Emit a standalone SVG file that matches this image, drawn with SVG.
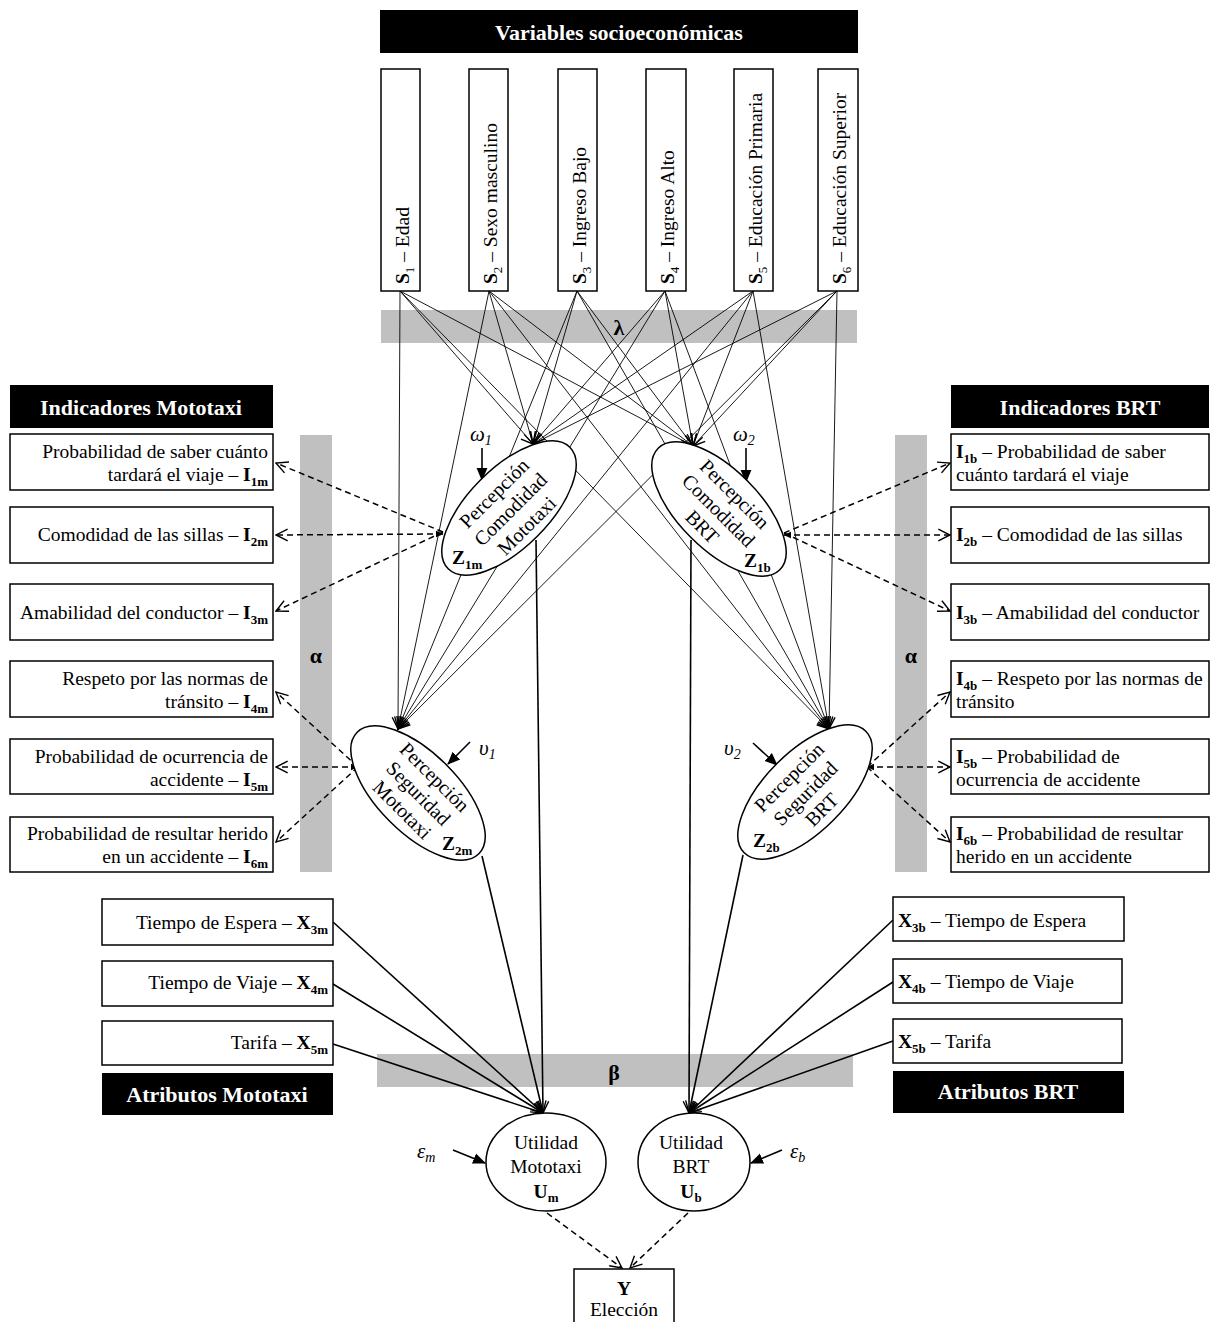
<svg xmlns="http://www.w3.org/2000/svg" width="1211" height="1322" viewBox="0 0 1211 1322">
<style>
text{font-family:"Liberation Serif","Times New Roman",serif;font-size:19.5px;fill:#000}
.hdr{fill:#000}
.hdrt{fill:#fff;font-weight:bold;font-size:22px;text-anchor:middle}
.box{fill:#fff;stroke:#000;stroke-width:1.5}
.bar{fill:#c0c0c0}
.b{font-weight:bold}
.sub{font-size:13px;font-weight:bold}
.subn{font-size:13px}
.lbl{font-weight:bold;font-size:22px;text-anchor:middle}
.thin{stroke:#000;stroke-width:0.9;fill:none;marker-end:url(#ao)}
.thick{stroke:#000;stroke-width:1.6;fill:none;marker-end:url(#ao)}
.dash{stroke:#000;stroke-width:1.5;fill:none;stroke-dasharray:6 4;marker-end:url(#ao)}
.dash2{marker-start:url(#as)}
.ell{fill:#fff;stroke:#000;stroke-width:1.5}
.et{text-anchor:middle}
.ez{font-size:20px}
.gk{font-style:italic;font-size:21px}
.gks{font-style:italic;font-size:14px}
.fa{stroke:#000;stroke-width:1.6;fill:none;marker-end:url(#af)}
</style>
<defs>
<marker id="ao" markerUnits="userSpaceOnUse" markerWidth="14" markerHeight="14" viewBox="0 0 12 12" refX="11" refY="6" orient="auto"><path d="M1,1 L11,6 L1,11" fill="none" stroke="#000" stroke-width="1.2" stroke-dasharray="none"/></marker>
<marker id="as" markerUnits="userSpaceOnUse" markerWidth="8" markerHeight="8" viewBox="0 0 12 12" refX="11" refY="6" orient="auto-start-reverse"><path d="M0,1 L12,6 L0,11 z" fill="#000"/></marker>
<marker id="af" markerUnits="userSpaceOnUse" markerWidth="13" markerHeight="13" viewBox="0 0 12 12" refX="11" refY="6" orient="auto"><path d="M0,1 L12,6 L0,11 z" fill="#000"/></marker>
</defs>
<rect width="1211" height="1322" fill="#fff"/>

<!-- gray parameter bars -->
<g id="bars">
<rect class="bar" x="381" y="310" width="476" height="33"/>
<rect class="bar" x="300" y="435" width="32" height="437"/>
<rect class="bar" x="895" y="435" width="32" height="437"/>
<rect class="bar" x="377" y="1054" width="476" height="33"/>
</g>

<g id="connectors">
<!-- S to latent variables -->
<line class="thin" x1="400" y1="291" x2="533" y2="444"/>
<line class="thin" x1="400" y1="291" x2="693" y2="446"/>
<line class="thin" x1="400" y1="291" x2="398" y2="729"/>
<line class="thin" x1="400" y1="291" x2="829" y2="729"/>
<line class="thin" x1="489" y1="291" x2="533" y2="444"/>
<line class="thin" x1="489" y1="291" x2="693" y2="446"/>
<line class="thin" x1="489" y1="291" x2="398" y2="729"/>
<line class="thin" x1="489" y1="291" x2="829" y2="729"/>
<line class="thin" x1="577" y1="291" x2="533" y2="444"/>
<line class="thin" x1="577" y1="291" x2="693" y2="446"/>
<line class="thin" x1="577" y1="291" x2="398" y2="729"/>
<line class="thin" x1="577" y1="291" x2="829" y2="729"/>
<line class="thin" x1="665" y1="291" x2="533" y2="444"/>
<line class="thin" x1="665" y1="291" x2="693" y2="446"/>
<line class="thin" x1="665" y1="291" x2="398" y2="729"/>
<line class="thin" x1="665" y1="291" x2="829" y2="729"/>
<line class="thin" x1="753" y1="291" x2="533" y2="444"/>
<line class="thin" x1="753" y1="291" x2="693" y2="446"/>
<line class="thin" x1="753" y1="291" x2="398" y2="729"/>
<line class="thin" x1="753" y1="291" x2="829" y2="729"/>
<line class="thin" x1="837" y1="291" x2="533" y2="444"/>
<line class="thin" x1="837" y1="291" x2="693" y2="446"/>
<line class="thin" x1="837" y1="291" x2="398" y2="729"/>
<line class="thin" x1="837" y1="291" x2="829" y2="729"/>
<!-- latent to indicators (dashed) -->
<line class="dash" x1="443" y1="532" x2="276" y2="463"/>
<line class="dash dash2" x1="443" y1="534" x2="276" y2="535"/>
<line class="dash" x1="443" y1="532" x2="276" y2="611"/>
<line class="dash" x1="358" y1="767" x2="276" y2="692"/>
<line class="dash dash2" x1="358" y1="767" x2="276" y2="767"/>
<line class="dash" x1="358" y1="767" x2="276" y2="842"/>
<line class="dash" x1="784" y1="533" x2="950" y2="463"/>
<line class="dash dash2" x1="784" y1="535" x2="950" y2="535"/>
<line class="dash" x1="784" y1="533" x2="950" y2="611"/>
<line class="dash" x1="867" y1="767" x2="950" y2="692"/>
<line class="dash dash2" x1="867" y1="767" x2="950" y2="767"/>
<line class="dash" x1="867" y1="767" x2="950" y2="842"/>
<!-- latent to utility -->
<line class="thick" x1="536" y1="540" x2="543" y2="1113"/>
<line class="thick" x1="482" y1="856" x2="543" y2="1113"/>
<line class="thick" x1="691" y1="540" x2="689" y2="1113"/>
<line class="thick" x1="743" y1="855" x2="689" y2="1113"/>
<!-- attributes to utility -->
<line class="thick" x1="333" y1="922" x2="543" y2="1113"/>
<line class="thick" x1="333" y1="984" x2="543" y2="1113"/>
<line class="thick" x1="333" y1="1044" x2="543" y2="1113"/>
<line class="thick" x1="893" y1="920" x2="689" y2="1113"/>
<line class="thick" x1="893" y1="982" x2="689" y2="1113"/>
<line class="thick" x1="893" y1="1041" x2="689" y2="1113"/>
<!-- utility to choice -->
<line class="dash" x1="547" y1="1213" x2="622" y2="1268"/>
<line class="dash" x1="688" y1="1213" x2="630" y2="1268"/>
<!-- error terms -->
<line class="fa" x1="482" y1="448" x2="482" y2="480"/>
<line class="fa" x1="746" y1="448" x2="746" y2="482"/>
<line class="fa" x1="470" y1="742" x2="448" y2="764"/>
<line class="fa" x1="753" y1="743" x2="777" y2="765"/>
<line class="fa" x1="453" y1="1150" x2="485" y2="1163"/>
<line class="fa" x1="782" y1="1150" x2="751" y2="1163"/>
</g>

<g id="bar-labels">
<text class="lbl" x="619" y="335">λ</text>
<text class="lbl" x="316" y="663">α</text>
<text class="lbl" x="911" y="663">α</text>
<text class="lbl" x="614" y="1080">β</text>
</g>

<g id="header-socio">
<rect class="hdr" x="380" y="10" width="478" height="43"/>
<text class="hdrt" x="619" y="40">Variables socioeconómicas</text>
</g>

<g id="S1"><rect class="box" x="381" y="69" width="39" height="222"/>
<text transform="translate(409,284) rotate(-90)"><tspan class="b">S</tspan><tspan class="subn" dy="5">1</tspan><tspan dy="-5"> – Edad</tspan></text></g>
<g id="S2"><rect class="box" x="469" y="69" width="39" height="222"/>
<text transform="translate(497,284) rotate(-90)"><tspan class="b">S</tspan><tspan class="subn" dy="5">2</tspan><tspan dy="-5"> – Sexo masculino</tspan></text></g>
<g id="S3"><rect class="box" x="558" y="69" width="39" height="222"/>
<text transform="translate(586,284) rotate(-90)"><tspan class="b">S</tspan><tspan class="subn" dy="5">3</tspan><tspan dy="-5"> – Ingreso Bajo</tspan></text></g>
<g id="S4"><rect class="box" x="646" y="69" width="40" height="222"/>
<text transform="translate(674,284) rotate(-90)"><tspan class="b">S</tspan><tspan class="subn" dy="5">4</tspan><tspan dy="-5"> – Ingreso Alto</tspan></text></g>
<g id="S5"><rect class="box" x="734" y="69" width="39" height="222"/>
<text transform="translate(762,284) rotate(-90)"><tspan class="b">S</tspan><tspan class="subn" dy="5">5</tspan><tspan dy="-5"> – Educación Primaria</tspan></text></g>
<g id="S6"><rect class="box" x="818" y="69" width="40" height="222"/>
<text transform="translate(846,284) rotate(-90)"><tspan class="b">S</tspan><tspan class="subn" dy="5">6</tspan><tspan dy="-5"> – Educación Superior</tspan></text></g>

<g id="header-ind-m">
<rect class="hdr" x="10" y="385" width="263" height="43"/>
<text class="hdrt" x="141" y="415">Indicadores Mototaxi</text>
</g>
<g id="I1m"><rect class="box" x="10" y="434" width="263" height="56"/>
<text x="268" y="458" text-anchor="end">Probabilidad de saber cuánto</text>
<text x="268" y="481" text-anchor="end">tardará el viaje – <tspan class="b">I</tspan><tspan class="sub" dy="5">1m</tspan></text></g>
<g id="I2m"><rect class="box" x="10" y="507" width="263" height="56"/>
<text x="268" y="541" text-anchor="end">Comodidad de las sillas – <tspan class="b">I</tspan><tspan class="sub" dy="5">2m</tspan></text></g>
<g id="I3m"><rect class="box" x="10" y="584" width="263" height="56"/>
<text x="268" y="619" text-anchor="end">Amabilidad del conductor – <tspan class="b">I</tspan><tspan class="sub" dy="5">3m</tspan></text></g>
<g id="I4m"><rect class="box" x="10" y="661" width="263" height="56"/>
<text x="268" y="685" text-anchor="end">Respeto por las normas de</text>
<text x="268" y="708" text-anchor="end">tránsito – <tspan class="b">I</tspan><tspan class="sub" dy="5">4m</tspan></text></g>
<g id="I5m"><rect class="box" x="10" y="739" width="263" height="55"/>
<text x="268" y="763" text-anchor="end">Probabilidad de ocurrencia de</text>
<text x="268" y="786" text-anchor="end">accidente – <tspan class="b">I</tspan><tspan class="sub" dy="5">5m</tspan></text></g>
<g id="I6m"><rect class="box" x="10" y="817" width="263" height="55"/>
<text x="268" y="840" text-anchor="end">Probabilidad de resultar herido</text>
<text x="268" y="863" text-anchor="end">en un accidente – <tspan class="b">I</tspan><tspan class="sub" dy="5">6m</tspan></text></g>

<g id="header-ind-b">
<rect class="hdr" x="951" y="385" width="258" height="43"/>
<text class="hdrt" x="1080" y="415">Indicadores BRT</text>
</g>
<g id="I1b"><rect class="box" x="951" y="434" width="258" height="56"/>
<text x="956" y="458"><tspan class="b">I</tspan><tspan class="sub" dy="5">1b</tspan><tspan dy="-5"> – Probabilidad de saber</tspan></text>
<text x="956" y="481">cuánto tardará el viaje</text></g>
<g id="I2b"><rect class="box" x="951" y="507" width="258" height="56"/>
<text x="956" y="541"><tspan class="b">I</tspan><tspan class="sub" dy="5">2b</tspan><tspan dy="-5"> – Comodidad de las sillas</tspan></text></g>
<g id="I3b"><rect class="box" x="951" y="584" width="258" height="56"/>
<text x="956" y="619"><tspan class="b">I</tspan><tspan class="sub" dy="5">3b</tspan><tspan dy="-5"> – Amabilidad del conductor</tspan></text></g>
<g id="I4b"><rect class="box" x="951" y="661" width="258" height="56"/>
<text x="956" y="685"><tspan class="b">I</tspan><tspan class="sub" dy="5">4b</tspan><tspan dy="-5"> – Respeto por las normas de</tspan></text>
<text x="956" y="708">tránsito</text></g>
<g id="I5b"><rect class="box" x="951" y="739" width="258" height="55"/>
<text x="956" y="763"><tspan class="b">I</tspan><tspan class="sub" dy="5">5b</tspan><tspan dy="-5"> – Probabilidad de</tspan></text>
<text x="956" y="786">ocurrencia de accidente</text></g>
<g id="I6b"><rect class="box" x="951" y="817" width="258" height="55"/>
<text x="956" y="840"><tspan class="b">I</tspan><tspan class="sub" dy="5">6b</tspan><tspan dy="-5"> – Probabilidad  de resultar</tspan></text>
<text x="956" y="863">herido en un accidente</text></g>

<g id="Z1m">
<ellipse class="ell" cx="0" cy="0" rx="86" ry="40" transform="translate(509,508) rotate(-45)"/>
<g transform="translate(511,510) rotate(-45)">
<text class="et ez" x="0" y="-17">Percepción</text>
<text class="et ez" x="0" y="6">Comodidad</text>
<text class="et ez" x="0" y="29">Mototaxi</text>
</g>
<text x="452" y="564"><tspan class="b">Z</tspan><tspan class="sub" dy="5">1m</tspan></text>
<text class="gk" x="470" y="441">ω<tspan class="gks" dy="4">1</tspan></text>
</g>

<g id="Z1b">
<ellipse class="ell" cx="0" cy="0" rx="86" ry="40" transform="translate(719,509) rotate(45)"/>
<g transform="translate(718,511) rotate(45)">
<text class="et ez" x="0" y="-17">Percepción</text>
<text class="et ez" x="0" y="6">Comodidad</text>
<text class="et ez" x="0" y="29">BRT</text>
</g>
<text x="744" y="567"><tspan class="b">Z</tspan><tspan class="sub" dy="5">1b</tspan></text>
<text class="gk" x="733" y="441">ω<tspan class="gks" dy="4">2</tspan></text>
</g>

<g id="Z2m">
<ellipse class="ell" cx="0" cy="0" rx="86" ry="40" transform="translate(418,793) rotate(45)"/>
<g transform="translate(418,794) rotate(45)">
<text class="et ez" x="0" y="-17">Percepción</text>
<text class="et ez" x="0" y="6">Seguridad</text>
<text class="et ez" x="0" y="29">Mototaxi</text>
</g>
<text x="442" y="850"><tspan class="b">Z</tspan><tspan class="sub" dy="5">2m</tspan></text>
<text class="gk" x="479" y="755">υ<tspan class="gks" dy="4">1</tspan></text>
</g>

<g id="Z2b">
<ellipse class="ell" cx="0" cy="0" rx="86" ry="40" transform="translate(805,792) rotate(-45)"/>
<g transform="translate(806,794) rotate(-45)">
<text class="et ez" x="0" y="-17">Percepción</text>
<text class="et ez" x="0" y="6">Seguridad</text>
<text class="et ez" x="0" y="29">BRT</text>
</g>
<text x="753" y="847"><tspan class="b">Z</tspan><tspan class="sub" dy="5">2b</tspan></text>
<text class="gk" x="724" y="755">υ<tspan class="gks" dy="4">2</tspan></text>
</g>

<g id="X3m"><rect class="box" x="102" y="899" width="231" height="46"/>
<text x="328" y="929" text-anchor="end">Tiempo de Espera – <tspan class="b">X</tspan><tspan class="sub" dy="5">3m</tspan></text></g>
<g id="X4m"><rect class="box" x="102" y="961" width="231" height="45"/>
<text x="328" y="989" text-anchor="end">Tiempo de Viaje – <tspan class="b">X</tspan><tspan class="sub" dy="5">4m</tspan></text></g>
<g id="X5m"><rect class="box" x="102" y="1021" width="231" height="44"/>
<text x="328" y="1049" text-anchor="end">Tarifa – <tspan class="b">X</tspan><tspan class="sub" dy="5">5m</tspan></text></g>
<g id="header-attr-m"><rect class="hdr" x="102" y="1073" width="231" height="42"/>
<text class="hdrt" x="217" y="1102">Atributos Mototaxi</text></g>

<g id="X3b"><rect class="box" x="893" y="897" width="231" height="44"/>
<text x="898" y="927"><tspan class="b">X</tspan><tspan class="sub" dy="5">3b</tspan><tspan dy="-5"> – Tiempo de Espera</tspan></text></g>
<g id="X4b"><rect class="box" x="893" y="959" width="229" height="44"/>
<text x="898" y="988"><tspan class="b">X</tspan><tspan class="sub" dy="5">4b</tspan><tspan dy="-5"> – Tiempo de Viaje</tspan></text></g>
<g id="X5b"><rect class="box" x="893" y="1019" width="229" height="44"/>
<text x="898" y="1048"><tspan class="b">X</tspan><tspan class="sub" dy="5">5b</tspan><tspan dy="-5"> – Tarifa</tspan></text></g>
<g id="header-attr-b"><rect class="hdr" x="893" y="1071" width="231" height="42"/>
<text class="hdrt" x="1008" y="1099">Atributos BRT</text></g>

<g id="Um">
<ellipse class="ell" cx="546" cy="1162" rx="60" ry="49"/>
<text class="et" x="546" y="1149">Utilidad</text>
<text class="et" x="546" y="1173">Mototaxi</text>
<text class="et" x="546" y="1198"><tspan class="b">U</tspan><tspan class="sub" dy="4">m</tspan></text>
<text class="gk" x="417" y="1158">ε<tspan class="gks" dy="4">m</tspan></text>
</g>
<g id="Ub">
<ellipse class="ell" cx="694" cy="1162" rx="56" ry="49"/>
<text class="et" x="691" y="1149">Utilidad</text>
<text class="et" x="691" y="1173">BRT</text>
<text class="et" x="691" y="1198"><tspan class="b">U</tspan><tspan class="sub" dy="4">b</tspan></text>
<text class="gk" x="790" y="1158">ε<tspan class="gks" dy="4">b</tspan></text>
</g>

<g id="Y">
<rect class="box" x="574" y="1269" width="100" height="60"/>
<text class="et b" x="624" y="1295">Y</text>
<text class="et" x="624" y="1316">Elección</text>
</g>
</svg>
